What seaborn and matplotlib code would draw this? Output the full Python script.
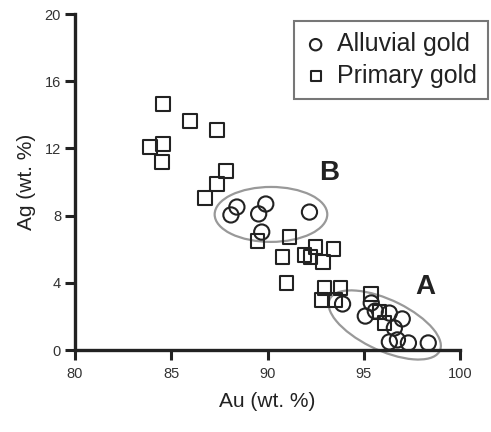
import numpy as np
import pandas as pd
import matplotlib.pyplot as plt
from matplotlib.patches import Ellipse
import seaborn as sns

sns.set_style("ticks")
plt.rcParams["font.family"] = ["Liberation Sans", "DejaVu Sans"]

# Alluvial gold (circles)
alluvial_au = [88.41, 88.10, 89.91, 89.54, 92.18, 89.70,
               93.90, 95.39, 95.08, 95.60, 96.33, 97.00, 96.59,
               96.33, 96.75, 97.32, 98.35]
alluvial_ag = [8.51, 8.04, 8.69, 8.10, 8.21, 7.02,
               2.74, 2.80, 2.02, 2.32, 2.20, 1.85, 1.31,
               0.48, 0.60, 0.42, 0.42]

# Primary gold (squares)
primary_au = [84.58, 85.97, 87.37, 83.90, 84.58, 84.52, 87.84, 87.37, 86.75,
              89.49, 91.15, 90.79, 91.93, 92.50, 92.24, 92.87, 93.44,
              90.99, 92.97, 93.80, 92.81, 93.53, 95.39, 95.81, 96.07]
primary_ag = [14.64, 13.63, 13.10, 12.08, 12.26, 11.19, 10.65, 9.88, 9.05,
              6.49, 6.73, 5.54, 5.65, 6.13, 5.54, 5.24, 6.01,
              3.99, 3.69, 3.69, 2.98, 2.98, 3.33, 2.26, 1.61]

x_ticks = [80, 85, 90, 95, 100]
y_ticks = [0, 4, 8, 12, 16, 20]

alluvial = pd.DataFrame({"Au": alluvial_au, "Ag": alluvial_ag})
primary = pd.DataFrame({"Au": primary_au, "Ag": primary_ag})

fig = plt.figure(figsize=(4.91, 4.32), dpi=100)
ax = fig.add_axes([75 / 491, 82 / 432, 385 / 491, 336 / 432])

ink = "#222222"
sns.scatterplot(data=alluvial, x="Au", y="Ag", marker="o", s=120, color=ink,
                facecolors="none", edgecolor=ink, linewidth=1.5,
                label="Alluvial gold", ax=ax, zorder=3)
sns.scatterplot(data=primary, x="Au", y="Ag", marker="s", s=95, color=ink,
                facecolors="none", edgecolor=ink, linewidth=1.5,
                label="Primary gold", ax=ax, zorder=3)

# group outlines
ax.add_patch(Ellipse((90.18, 8.07), 5.85, 3.27, angle=0, fill=False,
                     edgecolor="#999999", linewidth=1.6, zorder=2))
ax.add_patch(Ellipse((96.09, 1.49), 6.5, 2.95, angle=-29.7, fill=False,
                     edgecolor="#999999", linewidth=1.6, zorder=2, clip_on=False))
ax.text(93.22, 10.54, "B", fontsize=20, fontweight="bold", color=ink,
        ha="center", va="center")
ax.text(98.19, 3.75, "A", fontsize=20, fontweight="bold", color=ink,
        ha="center", va="center")

ax.set_xlim(80, 100)
ax.set_ylim(0, 20)
ax.set_xticks(x_ticks)
ax.set_yticks(y_ticks)
ax.set_xlabel("Au (wt. %)", fontsize=15, color=ink, labelpad=8)
ax.set_ylabel("Ag (wt. %)", fontsize=15, color=ink, labelpad=6)
ax.tick_params(axis="both", labelsize=10.5, colors="#333333", width=2.2,
               length=7, direction="out")
ax.tick_params(axis="x", pad=5, color=ink)
ax.tick_params(axis="y", pad=3, color=ink)
for side in ["left", "bottom"]:
    ax.spines[side].set_linewidth(2.4)
    ax.spines[side].set_color(ink)
sns.despine(ax=ax)

leg = ax.legend(loc="upper right", bbox_to_anchor=(488 / 491, 1 - 21 / 432),
                bbox_transform=fig.transFigure, borderaxespad=0,
                fontsize=18, frameon=True, fancybox=False, markerscale=0.75,
                handlelength=0.8, handletextpad=0.45, labelspacing=0.3,
                borderpad=0.45)
leg.get_frame().set_edgecolor("#555555")
leg.get_frame().set_linewidth(1.5)
for t in leg.get_texts():
    t.set_color(ink)

fig.savefig("out.png", dpi=100)
